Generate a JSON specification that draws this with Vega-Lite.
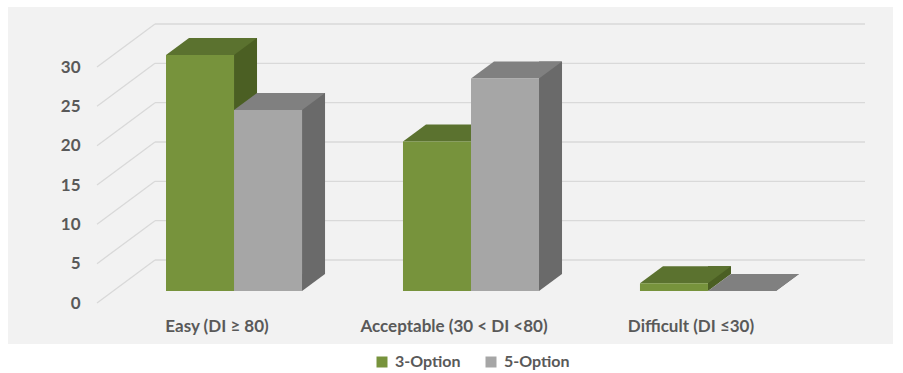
{
  "$schema": "https://vega.github.io/schema/vega-lite/v6.json",
  "width": 885,
  "height": 337,
  "padding": {"left": 8, "top": 7, "right": 10, "bottom": 0},
  "background": "white",
  "view": {"fill": "#f2f2f2", "stroke": null},
  "config": {"font": "Lato"},
  "datasets": {
    "bars": [
      {"cat": "Easy (DI ≥ 80)", "series": "3-Option", "value": 30},
      {"cat": "Easy (DI ≥ 80)", "series": "5-Option", "value": 23},
      {"cat": "Acceptable (30 < DI <80)", "series": "3-Option", "value": 19},
      {"cat": "Acceptable (30 < DI <80)", "series": "5-Option", "value": 27},
      {"cat": "Difficult (DI ≤30)", "series": "3-Option", "value": 1},
      {"cat": "Difficult (DI ≤30)", "series": "5-Option", "value": 0}
    ],
    "grid": [{"v": 0}, {"v": 5}, {"v": 10}, {"v": 15}, {"v": 20}, {"v": 25}, {"v": 30}]
  },
  "layer": [
    {
      "data": {"name": "grid"},
      "mark": {"type": "rule", "color": "#d9d9d9", "strokeWidth": 1.3, "yOffset": -31},
      "encoding": {
        "x": {"value": 147},
        "x2": {"value": 857},
        "y": {
          "field": "v", "type": "quantitative",
          "scale": {"domain": [0, 30], "range": [284, 48], "nice": false, "zero": true},
          "axis": {"title": null, "domain": false, "ticks": false, "grid": false, "labelPadding": 0, "offset": -72, "labelOffset": 12, "values": [0, 5, 10, 15, 20, 25, 30], "labelFont": "Lato", "labelFontSize": 17, "labelFontWeight": "bold", "labelColor": "#595959"}
        }
      }
    },
    {
      "data": {"name": "grid"},
      "mark": {"type": "rule", "color": "#d9d9d9", "strokeWidth": 1.3, "yOffset": 12, "y2Offset": -31},
      "encoding": {
        "x": {"value": 89},
        "x2": {"value": 147},
        "y": {"field": "v", "type": "quantitative"},
        "y2": {"field": "v"}
      }
    },
    {
      "data": {"name": "bars"},
      "transform": [{"filter": "datum.series === '3-Option'"}],
      "mark": {"type": "rule", "color": "#4b5f23", "strokeWidth": 23, "strokeCap": "butt", "yOffset": -17, "y2Offset": -17},
      "encoding": {
        "x": {"field": "cat", "type": "nominal", "bandPosition": 0.5846, "scale": {"domain": ["Easy (DI ≥ 80)", "Acceptable (30 < DI <80)", "Difficult (DI ≤30)"], "range": [158, 768], "paddingInner": 0.426, "paddingOuter": 0},
          "axis": {"title": null, "domain": false, "ticks": false, "grid": false, "labelPadding": 0, "offset": -26, "labelOffset": -17, "labelAngle": 0, "labelLimit": 400, "labelFont": "Lato", "labelFontSize": 17, "labelFontWeight": "bold", "labelColor": "#595959"}},
        "y": {"field": "value", "type": "quantitative"},
        "y2": {"datum": 0}
      }
    },
    {
      "data": {"name": "bars"},
      "transform": [{"filter": "datum.series === '3-Option'"}],
      "mark": {"type": "point", "shape": "M 34 0 L 34 -17 L 57 -17 Z", "size": 4, "filled": true, "opacity": 1, "color": "#4b5f23", "strokeWidth": 0},
      "encoding": {
        "x": {"field": "cat", "type": "nominal"},
        "xOffset": {"field": "series", "type": "nominal", "scale": {"domain": ["3-Option", "5-Option"], "paddingInner": 0, "paddingOuter": 0}},
        "y": {"datum": 0}
      }
    },
    {
      "data": {"name": "bars"},
      "transform": [{"filter": "datum.series === '3-Option'"}],
      "mark": {"type": "point", "shape": "M -34 0 L 34 0 L 57 -17 L -11 -17 Z", "size": 4, "filled": true, "opacity": 1, "color": "#5b722f", "strokeWidth": 0},
      "encoding": {
        "x": {"field": "cat", "type": "nominal"},
        "xOffset": {"field": "series", "type": "nominal"},
        "y": {"field": "value", "type": "quantitative"}
      }
    },
    {
      "data": {"name": "bars"},
      "transform": [{"filter": "datum.series === '3-Option'"}],
      "mark": {"type": "bar"},
      "encoding": {
        "x": {"field": "cat", "type": "nominal"},
        "xOffset": {"field": "series", "type": "nominal"},
        "y": {"field": "value", "type": "quantitative"},
        "color": {"field": "series", "type": "nominal", "scale": {"domain": ["3-Option", "5-Option"], "range": ["#77933c", "#a6a6a6"]},
          "legend": {"orient": "none", "legendX": 366, "legendY": 347, "direction": "horizontal", "title": null, "symbolType": "square", "symbolSize": 121, "symbolStrokeWidth": 0, "labelFont": "Lato", "labelFontSize": 16, "labelFontWeight": "bold", "labelColor": "#595959", "columnPadding": 22, "labelOffset": 5}}
      }
    },
    {
      "data": {"name": "bars"},
      "transform": [{"filter": "datum.series === '5-Option'"}],
      "mark": {"type": "rule", "color": "#6a6a6a", "strokeWidth": 23, "strokeCap": "butt", "yOffset": -17, "y2Offset": -17},
      "encoding": {
        "x": {"field": "cat", "type": "nominal", "bandPosition": 1.0846},
        "y": {"field": "value", "type": "quantitative"},
        "y2": {"datum": 0}
      }
    },
    {
      "data": {"name": "bars"},
      "transform": [{"filter": "datum.series === '5-Option'"}],
      "mark": {"type": "point", "shape": "M 34 0 L 34 -17 L 57 -17 Z", "size": 4, "filled": true, "opacity": 1, "color": "#6a6a6a", "strokeWidth": 0},
      "encoding": {
        "x": {"field": "cat", "type": "nominal"},
        "xOffset": {"field": "series", "type": "nominal"},
        "y": {"datum": 0}
      }
    },
    {
      "data": {"name": "bars"},
      "transform": [{"filter": "datum.series === '5-Option'"}],
      "mark": {"type": "point", "shape": "M -34 0 L 34 0 L 57 -17 L -11 -17 Z", "size": 4, "filled": true, "opacity": 1, "color": "#808080", "strokeWidth": 0},
      "encoding": {
        "x": {"field": "cat", "type": "nominal"},
        "xOffset": {"field": "series", "type": "nominal"},
        "y": {"field": "value", "type": "quantitative"}
      }
    },
    {
      "data": {"name": "bars"},
      "transform": [{"filter": "datum.series === '5-Option'"}],
      "mark": {"type": "bar"},
      "encoding": {
        "x": {"field": "cat", "type": "nominal"},
        "xOffset": {"field": "series", "type": "nominal"},
        "y": {"field": "value", "type": "quantitative"},
        "color": {"field": "series", "type": "nominal"}
      }
    }
  ]
}
